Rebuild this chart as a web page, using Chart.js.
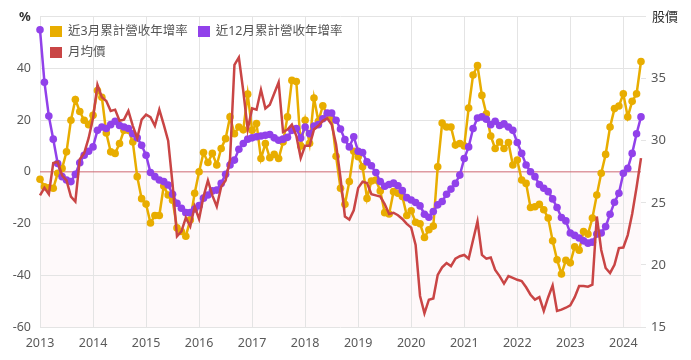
<!DOCTYPE html>
<html>
<head>
<meta charset="utf-8">
<script src="https://cdn.jsdelivr.net/npm/chart.js@4.4.1/dist/chart.umd.min.js"></script>
<style>
html,body{margin:0;padding:0;background:#fff;}
#wrap{position:relative;width:691px;height:360px;font-family:"Noto Sans","Noto Sans CJK TC",sans-serif;}
#legend{position:absolute;left:50px;top:24px;width:300px;display:flex;flex-wrap:wrap;column-gap:10px;row-gap:7px;font-size:12.5px;color:#555;line-height:14px;}
.item{display:flex;align-items:center;white-space:nowrap;}
.box{width:12px;height:11px;margin-right:6px;}
.ttl{position:absolute;font-size:13px;color:#333;line-height:15px;}
</style>
</head>
<body>
<div id="wrap">
<canvas id="c" width="691" height="360"></canvas>
<div id="legend"></div>
<div class="ttl" style="left:19px;top:9px;font-weight:bold;">%</div>
<div class="ttl" style="left:652px;top:9px;">股價</div>
</div>
<script>
// ---- data (monthly, Jan 2013 .. May 2024) ----
const START_YEAR = 2013;
const seriesNames = ['近3月累計營收年增率', '近12月累計營收年增率', '月均價'];
const seriesColors = ['#e8ad00', '#9141ea', '#c94545'];

const yoy3 = [
 -2.9,-5.8,-6.2,-6.4,-0.6,1.3,7.7,19.9,27.9,23.3,19.9,18.2,
 21.8,31.4,28.8,15,7.7,7.1,10.9,16.0,16.0,11.5,-1.9,-10.4,
 -12.5,-19.8,-16.9,-16.9,-5.5,-9,-11,-21.7,-23.1,-24.9,-18.6,-8.3,
 0,7.4,3.6,7.1,2.6,9.0,12.8,21.2,14.7,17.3,16.2,30,
 16,18.6,5.1,10.9,5.4,6.7,5.1,11.5,21.2,35.3,34.9,10,
 19.9,11,28.5,19.5,25.5,22,20.5,6,-6.4,-12.6,-3.8,7.9,
 5.8,1.9,-10.3,-3.6,-3.2,-7.4,-15.8,-16.3,-7.7,-8.3,-9.6,-16.9,
 -15.1,-19.5,-20.1,-25.4,-22.4,-21,1.9,18.8,17.3,17.3,10.3,10.9,
 10.0,24.6,37.4,41.0,29.5,22.4,13.8,9.0,11.5,9.0,11.3,2.6,
 4.5,-3.2,-4.5,-13.8,-13.5,-12.6,-14.7,-17.9,-26.7,-34.0,-39.5,-34.2,
 -35.2,-29,-30.3,-23.1,-24.1,-17.9,-9.0,-0.6,6.7,17.3,24.4,25.4,
 30.1,21.2,27.2,30.1,42.6
];
const yoy12 = [
 54.9,34.6,21.5,12.6,3.2,-1.9,-3.2,-3.8,-1.0,3.5,6.4,7.9,
 9.6,16.0,17.3,16.7,18.2,19.5,17.9,17.3,16.7,14.7,13.1,10.2,
 6.4,-0.3,-1.9,-3.2,-3.8,-5.1,-8.7,-12.2,-14.1,-15.8,-15.8,-14.4,
 -13.1,-10.2,-9.0,-7.4,-7.1,-4.5,-1.0,2.6,4.5,8.7,10.9,12.6,
 13.1,13.5,13.8,14.1,14.4,13.1,12.2,12.6,13.3,16.0,16.7,13,
 17.3,14.7,17.7,18.2,20.5,22.7,22.7,19.9,16.5,12.4,9.6,13.5,
 7.9,7.4,3.8,2.3,-0.3,-3.8,-5.6,-4.9,-4.4,-5.4,-7.3,-10.0,
 -10.9,-11.9,-13.2,-16.4,-17.6,-15.4,-12.8,-11.5,-8.7,-6.7,-4.5,-1.3,
 5.1,9.6,16.7,20.8,21.2,20.3,18.2,19.5,17.9,18.5,17.3,16.0,
 11.3,7.1,2.6,0,-1.9,-4.9,-6.4,-7.7,-10.5,-13.8,-17.7,-19.0,
 -23.7,-24.6,-25.6,-26.7,-27.6,-27.2,-24.1,-23.7,-21.2,-16.4,-11.8,-8.3,
 -0.6,1.3,7.1,14.7,21.2
];
const price = [
 25.6,26.2,25.7,28.2,28.3,27.2,26.8,25.5,25.1,28.5,29.0,30.2,
 31.8,34.5,33.5,33.2,32.4,32.5,31.6,31.7,32.4,31.2,30.2,31.7,
 32.1,31.9,31.2,32.5,31.3,30.0,26.5,22.3,22.7,23.8,23.1,24.7,
 23.7,25.5,26.8,25.6,24.7,26.3,26.8,28.5,36.1,36.7,34.0,30.9,
 32.6,32.5,34.1,32.6,32.9,33.8,34.7,30.7,30.9,31.3,30.4,28.6,
 29.6,29.6,30.9,31.2,31.6,31.8,31.3,29.7,27.0,23.9,23.65,24.4,
 26.2,26.7,26.6,25.7,25.6,25.5,24.9,24.1,24.2,24.0,23.7,23.3,
 23.0,21.6,17.5,16.1,17.2,17.3,19.2,19.8,20.15,19.9,20.5,20.7,
 20.8,20.5,22.0,23.5,20.8,20.5,20.6,19.6,19.1,18.5,19.1,18.95,
 18.8,18.7,18.2,17.6,17.2,17.4,16.3,17.4,18.35,16.3,16.4,16.55,
 16.75,17.4,18.3,18.3,18.25,18.4,23.9,21.2,19.75,19.35,20.0,21.35,
 21.4,22.4,24.1,26.25,28.6
];
const leftTicks = {min: -60, max: 60, step: 20};
const rightTicks = {min: 15, max: 40, step: 5};
const bandRange = [-60, 0];

// month category labels
const months = yoy3.map((_, i) => (START_YEAR + Math.floor(i / 12)) + '-' + String(i % 12 + 1).padStart(2, '0'));

// legend
const lg = document.getElementById('legend');
seriesNames.forEach((n, i) => {
  const d = document.createElement('div'); d.className = 'item';
  const b = document.createElement('span'); b.className = 'box'; b.style.background = seriesColors[i];
  const t = document.createElement('span'); t.textContent = n;
  d.appendChild(b); d.appendChild(t); lg.appendChild(d);
});

Chart.defaults.font.family = '"Noto Sans","Noto Sans CJK TC",sans-serif';
const gridCol = '#e4e4e4';
const tickCol = '#595959';

const bandPlugin = {
  id: 'band',
  beforeDraw(chart) {
    const {ctx, chartArea: a, scales: {y}} = chart;
    const top = y.getPixelForValue(bandRange[1]);
    const bot = y.getPixelForValue(bandRange[0]);
    ctx.save();
    ctx.fillStyle = 'rgba(230,80,110,0.035)';
    ctx.fillRect(a.left, top, a.right - a.left, bot - top);
    ctx.restore();
  }
};

new Chart(document.getElementById('c'), {
  type: 'line',
  data: {
    labels: months,
    datasets: [
      {label: seriesNames[2], data: price, yAxisID: 'y1', borderColor: seriesColors[2], backgroundColor: seriesColors[2],
       borderWidth: 2.5, pointRadius: 0, order: 0, clip: false},
      {label: seriesNames[1], data: yoy12, yAxisID: 'y', borderColor: seriesColors[1], backgroundColor: seriesColors[1],
       borderWidth: 2.5, pointRadius: 3.8, pointBorderWidth: 0, order: 1, clip: false},
      {label: seriesNames[0], data: yoy3, yAxisID: 'y', borderColor: seriesColors[0], backgroundColor: seriesColors[0],
       borderWidth: 2.5, pointRadius: 3.8, pointBorderWidth: 0, order: 2, clip: false}
    ]
  },
  options: {
    responsive: false,
    animation: false,
    layout: {padding: {top: 13, left: 0, right: 0, bottom: 0}},
    plugins: {legend: {display: false}, tooltip: {enabled: false}},
    elements: {line: {tension: 0}},
    scales: {
      x: {
        type: 'category', offset: false,
        border: {display: false},
        grid: {drawTicks: false, color: c => (months[c.index] && months[c.index].endsWith('-01')) ? gridCol : 'rgba(0,0,0,0)'},
        ticks: {autoSkip: false, maxRotation: 0, minRotation: 0, padding: 9, color: tickCol, font: {size: 12.5},
          callback: (v, i) => months[i].endsWith('-01') ? months[i].slice(0, 4) : ''},
        afterFit(s) { s.height = 33; }
      },
      y: {
        position: 'left', min: leftTicks.min, max: leftTicks.max,
        border: {display: false},
        grid: {drawTicks: false,
          color: c => (c.tick && c.tick.value === 0) ? 'rgba(205,100,110,0.65)' : gridCol,
          lineWidth: c => (c.tick && c.tick.value === 0) ? 1.6 : 1},
        ticks: {stepSize: leftTicks.step, padding: 9, color: tickCol, font: {size: 12.5},
          callback: v => v === leftTicks.max ? '' : v},
        afterFit(s) { s.width = 40; }
      },
      y1: {
        position: 'right', min: rightTicks.min, max: rightTicks.max,
        border: {display: false},
        grid: {drawOnChartArea: false, color: gridCol, tickLength: 5},
        ticks: {stepSize: rightTicks.step, padding: 5, color: tickCol, font: {size: 13},
          callback: v => v === rightTicks.max ? '' : v},
        afterFit(s) { s.width = 50; }
      }
    }
  },
  plugins: [bandPlugin]
});
</script>
</body>
</html>
